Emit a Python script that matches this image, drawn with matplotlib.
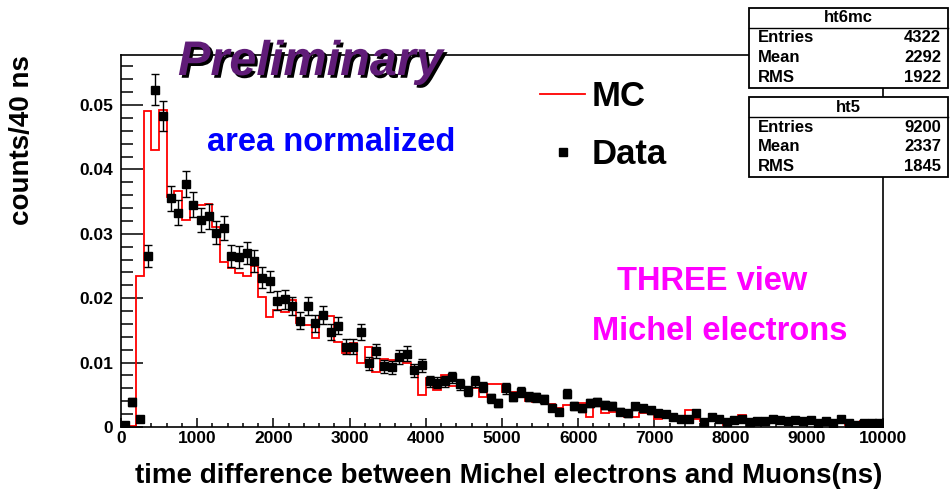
import numpy as np
import matplotlib
matplotlib.use('Agg')
import matplotlib.pyplot as plt
import matplotlib.patheffects as pe
from matplotlib.patches import Rectangle
from matplotlib.lines import Line2D

plt.rcParams['font.family'] = ['Liberation Sans', 'DejaVu Sans']
plt.rcParams['font.weight'] = 'bold'

# 100 ns bins from 0 to 10000 ns
bin_width = 100
n_bins = 100

# data points (area normalized)
data_vals = [0.0003, 0.0039, 0.0012, 0.0266, 0.0524, 0.0483, 0.0355, 0.0333, 0.0377, 0.0345,
             0.0321, 0.0327, 0.0302, 0.0309, 0.0266, 0.0264, 0.0270, 0.0258, 0.0232, 0.0226,
             0.0196, 0.0198, 0.0188, 0.0165, 0.0188, 0.0161, 0.0174, 0.0147, 0.0157, 0.0125,
             0.0125, 0.0148, 0.0099, 0.0118, 0.0094, 0.0093, 0.0108, 0.0114, 0.0088, 0.0096,
             0.0071, 0.0069, 0.0071, 0.0077, 0.0066, 0.0056, 0.0071, 0.0062, 0.0045, 0.0037,
             0.0060, 0.0047, 0.0055, 0.0047, 0.0046, 0.0043, 0.0030, 0.0023, 0.0052, 0.0033,
             0.0029, 0.0037, 0.0039, 0.0034, 0.0033, 0.0024, 0.0021, 0.0032, 0.0029, 0.0026,
             0.0022, 0.0020, 0.0015, 0.0012, 0.0013, 0.0021, 0.0008, 0.0015, 0.0013, 0.0008,
             0.0011, 0.0013, 0.0008, 0.0009, 0.0009, 0.0013, 0.0011, 0.0009, 0.0011, 0.0009,
             0.0011, 0.0006, 0.0009, 0.0006, 0.0013, 0.0006, 0.0003, 0.0006, 0.0006, 0.0006]

# MC histogram (area normalized)
mc_vals = [0.0005, 0.0001, 0.0234, 0.0490, 0.0430, 0.0492, 0.0357, 0.0366, 0.0321, 0.0342,
           0.0344, 0.0347, 0.0311, 0.0256, 0.0247, 0.0239, 0.0234, 0.0250, 0.0202, 0.0171,
           0.0181, 0.0178, 0.0197, 0.0162, 0.0159, 0.0138, 0.0172, 0.0172, 0.0132, 0.0115,
           0.0130, 0.0100, 0.0125, 0.0086, 0.0105, 0.0104, 0.0103, 0.0099, 0.0091, 0.0050,
           0.0076, 0.0057, 0.0081, 0.0064, 0.0063, 0.0062, 0.0061, 0.0047, 0.0067, 0.0066,
           0.0055, 0.0054, 0.0055, 0.0040, 0.0039, 0.0039, 0.0036, 0.0029, 0.0034, 0.0037,
           0.0038, 0.0016, 0.0032, 0.0022, 0.0024, 0.0027, 0.0016, 0.0016, 0.0021, 0.0024,
           0.0013, 0.0019, 0.0016, 0.0011, 0.0026, 0.0013, 0.0009, 0.0013, 0.0009, 0.0003,
           0.0012, 0.0019, 0.0006, 0.0011, 0.0009, 0.0013, 0.0009, 0.0011, 0.0013, 0.0009,
           0.0010, 0.0006, 0.0009, 0.0005, 0.0009, 0.0003, 0.0006, 0.0009, 0.0005, 0.0007]

# stat boxes
stat_names = ['ht6mc', 'ht5']
stat_entries = [4322, 9200]
stat_means = [2292, 2337]
stat_rms = [1922, 1845]

y_ticks = [0, 0.01, 0.02, 0.03, 0.04, 0.05]
y_ticklabels = ['0', '0.01', '0.02', '0.03', '0.04', '0.05']

edges = np.arange(n_bins + 1) * bin_width
centers = edges[:-1] + bin_width / 2
data_vals = np.array(data_vals)
# poisson errors of the normalized data
data_err = np.sqrt(data_vals / stat_entries[1])

W, H = 950, 490
fig = plt.figure(figsize=(W / 100, H / 100), dpi=100)
ax = fig.add_axes([121 / W, 1 - 427 / H, (883 - 121) / W, (427 - 55) / H])

ax.stairs(mc_vals, edges, color='red', lw=1.3, baseline=None, zorder=2)
ax.errorbar(centers, data_vals, yerr=data_err, fmt='s', ms=5.6, color='black',
            ecolor='black', elinewidth=1.0, capsize=3, capthick=1.0, zorder=3)

ax.set_xlim(0, 10000)
ax.set_ylim(0, (427 - 55) / 6440)
ax.set_xticks(np.arange(0, 10001, 1000))
ax.set_xticks(np.arange(0, 10001, 200), minor=True)
ax.set_yticks(y_ticks)
ax.set_yticklabels(y_ticklabels)
ax.set_yticks(np.arange(0, 0.0575, 0.002), minor=True)
ax.tick_params(axis='both', which='both', direction='in', top=False, right=False,
               labelsize=12.5, width=1.1)
ax.tick_params(axis='y', which='major', length=16, pad=5.5)
ax.tick_params(axis='y', which='minor', length=8.5)
ax.tick_params(axis='x', which='major', length=6.5, pad=3)
ax.tick_params(axis='x', which='minor', length=3)
for lab in ax.get_xticklabels() + ax.get_yticklabels():
    lab.set_fontweight('bold')
for s in ax.spines.values():
    s.set_linewidth(1.2)

fig.text(882 / W, 1 - 483 / H, 'time difference between Michel electrons and Muons(ns)',
         fontsize=20, ha='right', va='baseline')
fig.text(22 / W, 1 - 55 / H, 'counts/40 ns', fontsize=20, rotation=90,
         ha='center', va='top')

fig.text(178 / W, 1 - 75 / H, 'Preliminary', fontsize=35, style='italic',
         color='#601c78', ha='left', va='baseline',
         path_effects=[pe.SimplePatchShadow(offset=(2, -2), shadow_rgbFace='black', alpha=1.0),
                       pe.Normal()])
fig.text(207 / W, 1 - 151 / H, 'area normalized', fontsize=23.5, color='#0000ff',
         ha='left', va='baseline')
fig.text(617 / W, 1 - 290 / H, 'THREE view', fontsize=23.5, color='#ff00ff',
         ha='left', va='baseline')
fig.text(592 / W, 1 - 340 / H, 'Michel electrons', fontsize=23.5, color='#ff00ff',
         ha='left', va='baseline')

handles = [Line2D([], [], color='red', lw=1.3),
           Line2D([], [], marker='s', ls='none', color='black', ms=6)]
fig.legend(handles, ['MC', 'Data'], loc='upper left', bbox_to_anchor=(540 / W, 1 - 80 / H),
           frameon=False, fontsize=25, handlelength=1.3, handletextpad=0.2,
           labelspacing=0.72, borderpad=0, borderaxespad=0)

# stat boxes, ROOT style
box_tops = [8, 97]
for k in range(2):
    top = box_tops[k]
    x0, x1 = 749, 948
    fig.add_artist(Rectangle((x0 / W, 1 - (top + 80) / H), (x1 - x0) / W, 80 / H,
                             transform=fig.transFigure, facecolor='white',
                             edgecolor='black', lw=1.3, zorder=5))
    fig.add_artist(Line2D([x0 / W, x1 / W], [1 - (top + 20) / H] * 2,
                          transform=fig.transFigure, color='black', lw=1.0, zorder=6))
    fig.text((x0 + x1) / 2 / W, 1 - (top + 10) / H, stat_names[k], fontsize=12,
             ha='center', va='center', zorder=7)
    rows = [('Entries', stat_entries[k]), ('Mean', stat_means[k]), ('RMS', stat_rms[k])]
    for j, (lbl, val) in enumerate(rows):
        yy = 1 - (top + 30 + 19.5 * j) / H
        fig.text(758 / W, yy, lbl, fontsize=12, ha='left', va='center', zorder=7)
        fig.text(941 / W, yy, str(val), fontsize=12, ha='right', va='center', zorder=7)

fig.savefig('out.png', dpi=100)
